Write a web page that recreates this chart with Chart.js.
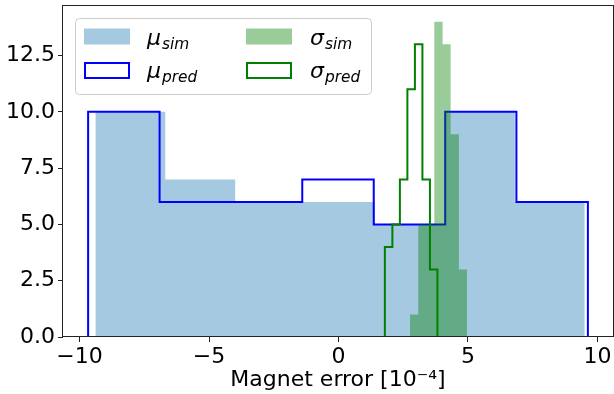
<!DOCTYPE html>
<html>
<head>
<meta charset="utf-8">
<script src="https://cdn.jsdelivr.net/npm/chart.js@4.4.0/dist/chart.umd.min.js"></script>
<style>
  html, body { margin: 0; padding: 0; background: #fff; }
</style>
</head>
<body>
<canvas id="grafico" width="614" height="394"></canvas>
<script>
// bordes y cuentas de cada histograma
var muSimEdges = [-9.39, -6.69, -3.99, -1.29, 1.41, 4.11, 6.81, 9.51];
var muSimCounts = [10, 7, 6, 6, 5, 10, 6];
var muPredEdges = [-9.67, -6.91, -4.16, -1.40, 1.36, 4.12, 6.87, 9.63];
var muPredCounts = [10, 6, 6, 7, 5, 10, 6];
var sigmaSimEdges = [2.76, 3.08, 3.39, 3.70, 4.02, 4.33, 4.65, 4.96];
var sigmaSimCounts = [1, 5, 5, 14, 13, 9, 3];
var sigmaPredEdges = [1.79, 2.08, 2.37, 2.66, 2.95, 3.24, 3.53, 3.82];
var sigmaPredCounts = [4, 5, 7, 11, 13, 7, 3];

var xTicks = [-10, -5, 0, 5, 10];
var yTicks = [0, 2.5, 5, 7.5, 10, 12.5];
var xTitle = 'Magnet error [10\u207B\u2074]';

var fuente = '"DejaVu Sans", sans-serif';

// contorno escalonado de un histograma
function contorno(edges, counts) {
    var pts = [{x: edges[0], y: 0}];
    for (var i = 0; i < counts.length; i++) {
        pts.push({x: edges[i], y: counts[i]});
        pts.push({x: edges[i + 1], y: counts[i]});
    }
    pts.push({x: edges[edges.length - 1], y: 0});
    return pts;
}

// marco completo (spines)
var marco = {
    id: 'marco',
    afterDatasetsDraw: function(chart) {
        var a = chart.chartArea, ctx = chart.ctx;
        ctx.save();
        ctx.strokeStyle = '#222';
        ctx.lineWidth = 1;
        ctx.strokeRect(a.left - 0.5, a.top - 0.5, a.right - a.left + 1, a.bottom - a.top);
        ctx.restore();
    }
};

function textoMath(ctx, x, y, main, sub) {
    ctx.font = 'italic 22px ' + fuente;
    ctx.fillText(main, x, y);
    var w = ctx.measureText(main).width;
    ctx.font = 'italic 15.4px ' + fuente;
    ctx.fillText(sub, x + w + 1, y + 3.5);
}

// leyenda a mano (subindices)
var leyenda = {
    id: 'leyenda',
    afterDraw: function(chart) {
        var ctx = chart.ctx;
        ctx.save();
        ctx.beginPath();
        ctx.roundRect(75.5, 18.5, 296, 76, 4);
        ctx.fillStyle = 'rgba(255,255,255,0.8)';
        ctx.fill();
        ctx.strokeStyle = '#cccccc';
        ctx.lineWidth = 1;
        ctx.stroke();

        ctx.fillStyle = 'rgba(31,119,180,0.4)';
        ctx.fillRect(84, 28.5, 46, 16);
        ctx.fillStyle = 'rgba(0,128,0,0.4)';
        ctx.fillRect(246, 28.5, 46, 16);

        ctx.lineWidth = 2;
        ctx.strokeStyle = '#0000ff';
        ctx.strokeRect(85, 63, 44, 15);
        ctx.strokeStyle = '#008000';
        ctx.strokeRect(247, 63, 44, 15);

        ctx.fillStyle = '#000';
        ctx.textBaseline = 'alphabetic';
        ctx.textAlign = 'left';
        textoMath(ctx, 147, 45, '\u03BC', 'sim');
        textoMath(ctx, 147, 78, '\u03BC', 'pred');
        textoMath(ctx, 310, 45, '\u03C3', 'sim');
        textoMath(ctx, 310, 78, '\u03C3', 'pred');
        ctx.restore();
    }
};

var datos = {
    datasets: [
        {
            label: 'mu_sim',
            data: contorno(muSimEdges, muSimCounts),
            fill: 'origin',
            backgroundColor: 'rgba(31,119,180,0.4)',
            borderColor: 'rgba(0,0,0,0)',
            borderWidth: 0,
            pointRadius: 0,
            order: 4
        },
        {
            label: 'mu_pred',
            data: contorno(muPredEdges, muPredCounts),
            fill: false,
            borderColor: '#0000ff',
            borderWidth: 2,
            borderJoinStyle: 'miter',
            pointRadius: 0,
            order: 3
        },
        {
            label: 'sigma_sim',
            data: contorno(sigmaSimEdges, sigmaSimCounts),
            fill: 'origin',
            backgroundColor: 'rgba(0,128,0,0.4)',
            borderColor: 'rgba(0,0,0,0)',
            borderWidth: 0,
            pointRadius: 0,
            order: 2
        },
        {
            label: 'sigma_pred',
            data: contorno(sigmaPredEdges, sigmaPredCounts),
            fill: false,
            borderColor: '#008000',
            borderWidth: 2,
            borderJoinStyle: 'miter',
            pointRadius: 0,
            order: 1
        }
    ]
};

var graph = new Chart(document.getElementById('grafico'), {
    type: 'line',
    data: datos,
    options: {
        responsive: false,
        animation: false,
        layout: { padding: { top: 6, right: 1, left: 0, bottom: 0 } },
        plugins: {
            legend: { display: false },
            tooltip: { enabled: false }
        },
        scales: {
            x: {
                type: 'linear',
                min: -10.64,
                max: 10.6,
                afterBuildTicks: function(s) { s.ticks = xTicks.map(function(v) { return {value: v}; }); },
                afterFit: function(s) { s.height = 57; s.paddingLeft = 0; s.paddingRight = 0; },
                ticks: {
                    font: { family: fuente, size: 22 },
                    color: '#000',
                    padding: 2,
                    maxRotation: 0,
                    autoSkip: false,
                    callback: function(v) { return String(v).replace('-', '\u2212'); }
                },
                grid: { drawOnChartArea: false, drawTicks: true, tickLength: 5, color: '#222' },
                border: { display: false },
                title: {
                    display: true,
                    text: xTitle,
                    font: { family: fuente, size: 22 },
                    color: '#000',
                    padding: { top: 0, bottom: 1 }
                }
            },
            y: {
                min: 0,
                max: 14.7,
                afterBuildTicks: function(s) { s.ticks = yTicks.map(function(v) { return {value: v}; }); },
                afterFit: function(s) { s.width = 63; s.paddingTop = 0; s.paddingBottom = 0; },
                ticks: {
                    font: { family: fuente, size: 22 },
                    color: '#000',
                    padding: 3,
                    autoSkip: false,
                    callback: function(v) { return v.toFixed(1); }
                },
                grid: { drawOnChartArea: false, drawTicks: true, tickLength: 5, color: '#222' },
                border: { display: false }
            }
        }
    },
    plugins: [marco, leyenda]
});
</script>
</body>
</html>
